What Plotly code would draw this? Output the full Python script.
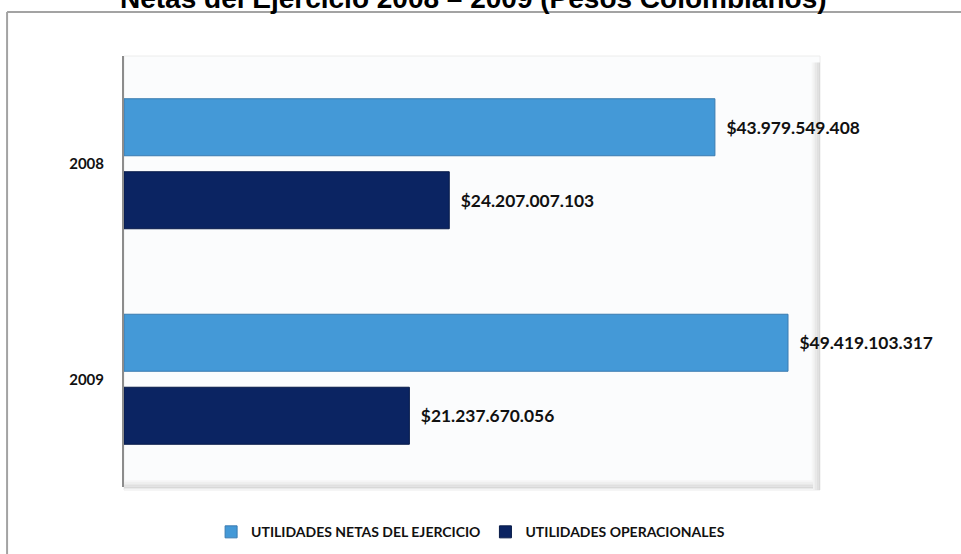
import plotly.graph_objects as go

years = ["2008", "2009"]
utilidades_netas = [43979549408, 49419103317]
utilidades_operacionales = [24207007103, 21237670056]
series_names = ["UTILIDADES NETAS DEL EJERCICIO", "UTILIDADES OPERACIONALES"]
title_text = "Netas del Ejercicio 2008 – 2009 (Pesos Colombianos)"


def fmt(v):
    return "$" + f"{v:,}".replace(",", ".")


FONT = "Lato"
fig = go.Figure()
fig.add_trace(go.Bar(
    y=years, x=utilidades_netas, orientation="h", name=series_names[0],
    marker=dict(color="#4499d7", line=dict(color="#3a7bb0", width=1)),
    text=[fmt(v) for v in utilidades_netas],
    texttemplate="\u00a0\u00a0%{text}", textposition="outside",
    textfont=dict(family=FONT, size=17.4, color="#111111", weight="bold"),
    cliponaxis=False, hoverinfo="skip",
))
fig.add_trace(go.Bar(
    y=years, x=utilidades_operacionales, orientation="h", name=series_names[1],
    marker=dict(color="#0b2462", line=dict(color="#071a48", width=1)),
    text=[fmt(v) for v in utilidades_operacionales],
    texttemplate="\u00a0\u00a0%{text}", textposition="outside",
    textfont=dict(family=FONT, size=17.4, color="#111111", weight="bold"),
    cliponaxis=False, hoverinfo="skip",
))

shapes = [
    # wall surface
    dict(type="rect", xref="x domain", yref="y domain", x0=0, x1=1.0, y0=-0.007, y1=1.0,
         fillcolor="#fbfcfd", line=dict(color="#ececec", width=1), layer="below"),
]
# right side shading of the wall
greys = ["#f6f6f6", "#efefef", "#e8e8e8", "#e0e0e0", "#d8d8d8"]
for i, g in enumerate(greys):
    shapes.append(dict(type="rect", xref="x domain", yref="y domain",
                       x0=0.988 + i * 0.0024, x1=0.9904 + i * 0.0024, y0=-0.007, y1=0.985,
                       fillcolor=g, line=dict(width=0), layer="below"))
for i, g in enumerate(greys):
    shapes.append(dict(type="rect", xref="x domain", yref="y domain",
                       x0=0.0, x1=0.99, y0=0.012 - i * 0.0038, y1=0.0158 - i * 0.0038,
                       fillcolor=g, line=dict(width=0), layer="below"))
# outer chart frame
shapes.append(dict(type="line", xref="paper", yref="paper", x0=-0.168, x1=1.25, y0=1.102, y1=1.102,
                   line=dict(color="#a3a3a3", width=2)))
shapes.append(dict(type="line", xref="paper", yref="paper", x0=-0.168, x1=-0.168, y0=1.102, y1=-0.2,
                   line=dict(color="#a3a3a3", width=2)))

fig.update_layout(
    width=961, height=554,
    margin=dict(l=124, r=141, t=56, b=67, autoexpand=False),
    paper_bgcolor="white", plot_bgcolor="rgba(0,0,0,0)",
    barmode="group", bargap=0.3225, bargroupgap=0.219,
    showlegend=True,
    legend=dict(orientation="h", x=0.498, xanchor="center", y=-0.105, yanchor="middle",
                font=dict(family=FONT, size=14, color="#111111", weight="bold"),
                traceorder="normal", itemwidth=30),
    shapes=shapes,
    annotations=[dict(text="<b>" + title_text + "</b>", xref="paper", yref="paper",
                      x=-0.0086, y=1.0, xanchor="left", yanchor="bottom", yshift=40,
                      showarrow=False,
                      font=dict(family="Liberation Sans", size=28, color="#000000"))],
)
fig.update_xaxes(range=[0, 51.8e9], showgrid=False, zeroline=False, showticklabels=False,
                 showline=False)
fig.update_yaxes(autorange="reversed", showgrid=False, zeroline=False, showline=True,
                 linecolor="#8c8c8c", linewidth=2, ticks="", ticklabelstandoff=15,
                 tickfont=dict(family=FONT, size=15, color="#111111", weight="bold"))

fig.write_html("out.html", config={"displayModeBar": False},
               post_script="document.body.style.margin='0';")
